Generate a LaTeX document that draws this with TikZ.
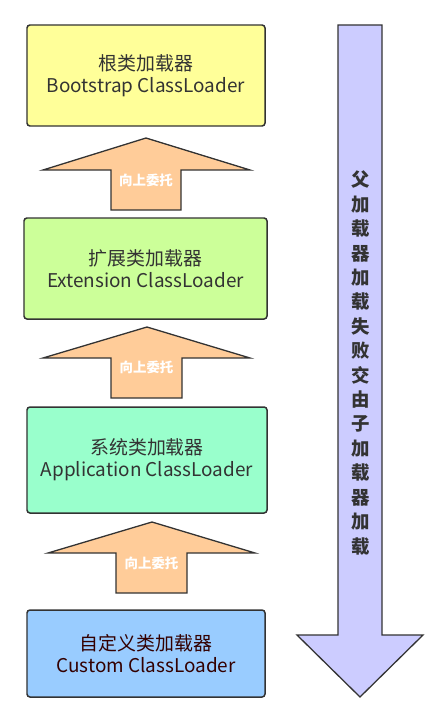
\documentclass[tikz,border=0pt]{standalone}
\usepackage{fontspec}
\setmainfont{Noto Sans CJK SC}
\usepackage{xcolor}
\definecolor{Col1}{RGB}{255,255,153}
\definecolor{Col2}{RGB}{204,255,153}
\definecolor{Col3}{RGB}{153,255,204}
\definecolor{Col4}{RGB}{153,204,255}
\definecolor{Col5}{RGB}{255,204,153}
\definecolor{Col6}{RGB}{204,204,255}
\definecolor{Col7}{RGB}{51,51,51}
\definecolor{Col8}{RGB}{51,0,0}
\usepackage{tikz}
\tikzstyle{Loader}=[rectangle,draw=Col7,line width=1.5pt,rounded corners=3pt,
align=center,text=Col7,font=\fontsize{19}{22}\selectfont]
\tikzstyle{Arrow}=[draw=Col7,line width=1.3pt,fill=Col5]
\tikzstyle{ArrowST}=[text=white,font=\fontsize{13.5}{15}\selectfont\bfseries]

\begin{document}
\begin{tikzpicture}[x=1bp,y=-1bp]
            \useasboundingbox (0,0) rectangle (447,722);
            \node[Loader,fill=Col1,minimum width=238bp,minimum height=101bp]
                (1)at(146,75.5){根类加载器\\Bootstrap ClassLoader};
            \node[Loader,fill=Col2,minimum width=243bp,minimum height=101bp]
                (2)at(145.5,268.5){扩展类加载器\\Extension ClassLoader};
            \node[Loader,fill=Col3,minimum width=240bp,minimum height=106bp]
                (3)at(147,460){系统类加载器\\Application ClassLoader};
            \node[Loader,fill=Col4,minimum width=238bp,minimum height=87bp,
                text=Col8](4)at(146,653.5){自定义类加载器\\Custom ClassLoader};
            %
            \draw[Arrow](146,138)--(250,170)--(181,170)--(181,210)
                --(111,210)--(111,170)--(43,170)--cycle;
            \node[ArrowST](12)at(146,180){向上委托};
            \draw[Arrow](147,327)--(250,358)--(182,358)--(182,398)
                --(111,398)--(111,358)--(43,358)--cycle;
            \node[ArrowST](23)at(146.5,367){向上委托};
            \draw[Arrow](152,522)--(255,553)--(187,553)--(187,593)
                --(116,593)--(116,553)--(48,553)--cycle;
            \node[ArrowST](34)at(151.5,563){向上委托};
            %
            \draw[Arrow,fill=Col6](338,25)--(382,25)--(382,635)--(423,635)
                --(360,697)--(297,635)--(338,635)--cycle;
            \node[text=Col7,align=center,font=\fontsize{18.5}{24.5}\selectfont\bfseries]
                (d)at(360.5,363){父\\加\\载\\器\\加\\载\\失\\败\\交\\由\\子\\加\\载\\器\\加\\载};
        \end{tikzpicture}
\end{document}
